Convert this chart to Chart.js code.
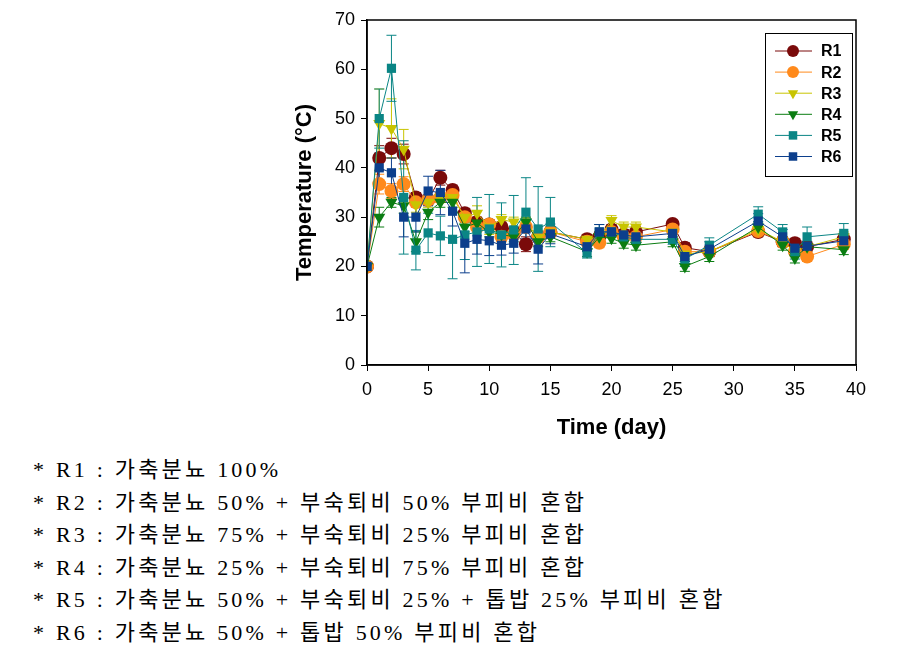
<!DOCTYPE html>
<html>
<head>
<meta charset="utf-8">
<script src="https://cdn.jsdelivr.net/npm/chart.js@4.4.1/dist/chart.umd.min.js"></script>
<style>
  body { margin: 0; background: #fff; }
  #wrap { position: relative; width: 900px; height: 650px; }
  #box { position: absolute; left: 0; top: 0; width: 900px; height: 445px; }
  #notes {
    position: absolute; left: 33px; top: 454px;
    font-family: "Liberation Serif", "Noto Sans CJK KR", serif;
    font-size: 22px; line-height: 32.6px; letter-spacing: 3.2px; color: #000;
  }
</style>
</head>
<body>
<div id="wrap">
  <div id="box"><canvas id="chart"></canvas></div>
  <div id="notes">
    <div>* R1 : 가축분뇨 100%</div>
    <div>* R2 : 가축분뇨 50% + 부숙퇴비 50% 부피비 혼합</div>
    <div>* R3 : 가축분뇨 75% + 부숙퇴비 25% 부피비 혼합</div>
    <div>* R4 : 가축분뇨 25% + 부숙퇴비 75% 부피비 혼합</div>
    <div>* R5 : 가축분뇨 50% + 부숙퇴비 25% + 톱밥 25% 부피비 혼합</div>
    <div>* R6 : 가축분뇨 50% + 톱밥 50% 부피비 혼합</div>
  </div>
</div>
<script>
// sampling days
const days = [0,1,2,3,4,5,6,7,8,9,10,11,12,13,14,15,18,19,20,21,22,25,26,28,32,34,35,36,39];

// mean temperature per reactor
const r1 = [20,42,44,42.8,34,33.5,38,35.5,30.8,29,28.5,28,27,24.5,26,27,25.5,26,27.5,26.5,27,28.6,23.8,23,27,25,24.7,24,25.5];
const r2 = [20,36.7,35.3,36.7,33,33.5,34,34.5,30,28,28.5,26,26.5,28,26,27,25,24.8,27,26,26,27.5,23,23,27.2,25,23,22,24.5];
const r3 = [20,49,48,43.8,32.5,33,34,34,30,30.8,28,29.5,29,29,25.8,27,25.5,26,29.3,28,28,27,22.5,23,27.5,25,23,24,26];
const r4 = [20,30,33,32.3,25,31,33,33,28,28.8,27,26.5,26,29,25,26,23,26,25.7,24.7,24.3,25,20,22,28,24.3,21.7,24,23.4];
const r5 = [20,50,60.2,34,23.3,26.8,26.2,25.5,26.4,27,27.6,26.4,27.4,31,27.6,29,22.7,27,27,26,25.5,25.5,21.5,24.3,30.6,27,23,26,26.7];
const r6 = [20,40,39,30,30,35.3,35,31.2,24.7,25.5,25.2,24.3,24.7,27.6,23.5,26.6,24,27,27,26.4,26,26.7,22,23.5,29.2,26,23.7,24.1,25.2];

// error bar half widths
const r1err = [0,2.5,2,2,1,1,1.5,1,1,1,1,1,1,1.5,1,1,1,1,1,1,1,0.5,1,1,1,1,1,1,1];
const r2err = [0,2,1.5,1.5,1,1,1,1,1,1,1,1,1,1,1,1,1,1,1,1,1,1,1,1,1,1,1,1,1];
const r3err = [0,7,6,4,1.5,1,1,1,1.5,1.5,1.5,1,1,1,1.5,1,1,1,1,1,1,1,1,1,1,1,1,1,1];
const r4err = [0,2,1,1.5,2,1.5,1,1,1,1,1,1,1,1,1,1,1,1,1,1,1,1,1,1,1,1,1,1,1];
const r5err = [0,6,6.7,11.5,4,4,4,8,5,7,7,6.5,7,7,8.6,5,1,1.5,1,1,1,1,1.5,1.5,1.5,1.5,1.5,2,2];
const r6err = [0,3,3,4,3,3,4.5,3,6,3,3,2,2,2,3,2,1,1.5,1,1,1,1,1,1.5,1.5,1.5,1,1,1.5];

const names = ['R1','R2','R3','R4','R5','R6'];
const values = [r1, r2, r3, r4, r5, r6];
const errors = [r1err, r2err, r3err, r4err, r5err, r6err];
const colors = ['#7a0a0a', '#ff8a1c', '#c8c400', '#0b7d12', '#0a8585', '#0c3f8c'];
const shapes = ['circle', 'circle', 'triangle', 'triangle', 'rect', 'rect'];
const rot = [0, 0, 180, 180, 0, 0];

const datasets = names.map((n, i) => ({
  label: n,
  data: days.map((d, k) => ({ x: d, y: values[i][k] })),
  err: errors[i],
  borderColor: colors[i],
  backgroundColor: colors[i],
  borderWidth: 1,
  pointStyle: shapes[i],
  rotation: rot[i],
  pointRadius: shapes[i] === 'rect' ? 6.5 : 7,
  pointBorderWidth: 0,
  tension: 0,
  order: 5 - i
}));

// error bars, box border and legend
const extras = {
  id: 'extras',
  beforeDatasetsDraw(chart) {
    const ctx = chart.ctx, xs = chart.scales.x, ys = chart.scales.y;
    ctx.save();
    ctx.lineWidth = 1;
    chart.data.datasets.forEach(ds => {
      ctx.strokeStyle = ds.borderColor;
      ds.data.forEach((p, k) => {
        const e = ds.err[k];
        if (!e) return;
        const x = xs.getPixelForValue(p.x);
        const yt = ys.getPixelForValue(p.y + e), yb = ys.getPixelForValue(p.y - e);
        ctx.beginPath();
        ctx.moveTo(x, yt); ctx.lineTo(x, yb);
        ctx.moveTo(x - 5, yt); ctx.lineTo(x + 5, yt);
        ctx.moveTo(x - 5, yb); ctx.lineTo(x + 5, yb);
        ctx.stroke();
      });
    });
    ctx.restore();
  },
  afterDraw(chart) {
    const ctx = chart.ctx, a = chart.chartArea;
    ctx.save();
    ctx.strokeStyle = '#000';
    ctx.lineWidth = 1.5;
    ctx.strokeRect(a.left, a.top, a.right - a.left, a.bottom - a.top);

    // legend
    const lx = 765, ly = 33, lw = 87, lh = 143;
    ctx.fillStyle = '#fff';
    ctx.fillRect(lx, ly, lw, lh);
    ctx.lineWidth = 1;
    ctx.strokeRect(lx + 0.5, ly + 0.5, lw, lh);
    chart.data.datasets.forEach((ds, i) => {
      const y = 51 + i * 21.1;
      ctx.strokeStyle = ds.borderColor;
      ctx.beginPath();
      ctx.moveTo(775, y); ctx.lineTo(812, y);
      ctx.stroke();
      ctx.fillStyle = ds.backgroundColor;
      Chart.helpers.drawPoint(ctx, { pointStyle: ds.pointStyle, rotation: ds.rotation, radius: 6, borderWidth: 0 }, 793, y);
      ctx.fillStyle = '#000';
      ctx.font = 'bold 16px "Liberation Sans", Arial, sans-serif';
      ctx.textBaseline = 'middle';
      ctx.fillText(ds.label, 821, y + 1);
    });
    ctx.restore();
  }
};

const tickFont = { family: '"Liberation Sans", Arial, sans-serif', size: 18 };
const titleFont = { family: '"Liberation Sans", Arial, sans-serif', size: 22, weight: 'bold' };

new Chart(document.getElementById('chart'), {
  type: 'line',
  data: { datasets },
  options: {
    responsive: true,
    maintainAspectRatio: false,
    animation: false,
    layout: { padding: { left: 288, right: 44, top: 20, bottom: 0 } },
    plugins: { legend: { display: false }, tooltip: { enabled: false } },
    scales: {
      x: {
        type: 'linear', min: 0, max: 40,
        ticks: { stepSize: 5, color: '#000', font: tickFont, padding: 8, maxRotation: 0 },
        grid: { display: true, drawOnChartArea: false, drawTicks: true, tickLength: 6, color: '#000' },
        border: { display: true, color: '#000', width: 1.5 },
        title: { display: true, text: 'Time (day)', color: '#000', font: titleFont, padding: { top: 8 } },
        afterFit(s) { s.height = 80; }
      },
      y: {
        min: 0, max: 70,
        ticks: { stepSize: 10, color: '#000', font: tickFont, padding: 6 },
        grid: { display: true, drawOnChartArea: false, drawTicks: true, tickLength: 6, color: '#000' },
        border: { display: true, color: '#000', width: 1.5 },
        title: { display: true, text: 'Temperature (°C)', color: '#000', font: titleFont, padding: { bottom: 4 } },
        afterFit(s) { s.width = 79; }
      }
    }
  },
  plugins: [extras]
});
</script>
</body>
</html>
